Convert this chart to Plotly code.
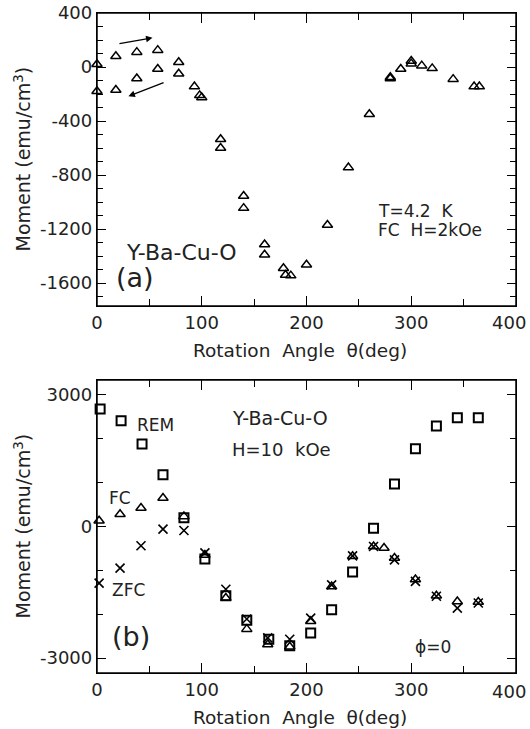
import plotly.graph_objects as go

# ---- Panel (a): FC H=2kOe, T=4.2 K ----
a_theta = [0, 0, 18, 18, 38, 38, 58, 58, 78, 78, 93, 98, 100, 118, 118, 140, 140,
           160, 160, 178, 180, 185, 200, 220, 240, 260, 280, 280, 290, 300, 300,
           310, 320, 340, 360, 365]
a_moment = [20, -180, 80, -170, 110, -85, 125, -15, 35, -50, -145, -210, -225, -535, -600,
            -955, -1045, -1315, -1390, -1490, -1540, -1545, -1465, -1170, -745, -350,
            -75, -85, -15, 45, 25, 10, -10, -90, -145, -145]

# ---- Panel (b): H=10 kOe ----
b_theta = [3, 23, 43, 63, 83, 103, 123, 143, 164, 184, 204, 224, 244, 264, 284, 304, 324, 344, 364]
rem = [2680, 2410, 1880, 1180, 200, -740, -1580, -2140, -2570, -2720, -2430, -1900, -1040,
       -40, 970, 1770, 2290, 2480, 2480]
fc_theta = [2, 22, 42, 63, 83, 103, 123, 143, 163, 184, 204, 224, 244, 264, 274, 284, 304, 324, 344, 364]
fc = [130, 280, 420, 650, 230, -650, -1630, -2340, -2690, -2740, -2160, -1370, -680, -455,
      -490, -720, -1210, -1580, -1710, -1720]
zfc_theta = [2, 22, 42, 63, 83, 103, 123, 143, 163, 184, 204, 224, 244, 264, 284, 304, 324, 344, 364]
zfc = [-1290, -950, -440, -60, -90, -600, -1430, -2110, -2540, -2570, -2090, -1330, -670,
       -455, -760, -1250, -1590, -1860, -1745]

x_tickvals = [0, 100, 200, 300, 400]
x_ticktext = ["0", "100", "200", "300", ""]   # "400" placed separately at the edge
a_tickvals = [-1600, -1200, -800, -400, 0, 400]
a_ticktext = ["-1600", "-1200", "-800", "-400", "0", "400"]
b_tickvals = [-3000, 0, 3000]
b_ticktext = ["-3000", "0", "3000"]

FONT = "DejaVu Sans"
INK = "#222"
W, H = 530, 729

def px_x(p):
    return p / W

def px_y(p):
    return 1 - p / H

fig = go.Figure()

fig.add_trace(go.Scatter(x=a_theta, y=a_moment, mode="markers", xaxis="x", yaxis="y",
                         marker=dict(symbol="triangle-up-open", size=9, color="black",
                                     line=dict(width=1.5, color="black")),
                         cliponaxis=False, showlegend=False))

fig.add_trace(go.Scatter(x=b_theta, y=rem, mode="markers", xaxis="x2", yaxis="y2",
                         marker=dict(symbol="square-open", size=9, color="black",
                                     line=dict(width=2, color="black")),
                         cliponaxis=False, showlegend=False))
fig.add_trace(go.Scatter(x=fc_theta, y=fc, mode="markers", xaxis="x2", yaxis="y2",
                         marker=dict(symbol="triangle-up-open", size=9, color="black",
                                     line=dict(width=1.5, color="black")),
                         cliponaxis=False, showlegend=False))
fig.add_trace(go.Scatter(x=zfc_theta, y=zfc, mode="markers", xaxis="x2", yaxis="y2",
                         marker=dict(symbol="x-thin-open", size=9, color="black",
                                     line=dict(width=1.6, color="black")),
                         cliponaxis=False, showlegend=False))

axis_common = dict(showline=True, linecolor="black", linewidth=1.3, mirror="ticks",
                   ticks="inside", tickcolor="black", tickwidth=1.2, showgrid=False,
                   zeroline=False, automargin=False, ticklabeloverflow="allow",
                   tickfont=dict(family=FONT, size=18, color=INK))

xdom = [px_x(97), px_x(516)]
TOP_A, BOT_A = 13, 306
TOP_B, BOT_B = 380, 673

fig.update_layout(
    width=W, height=H, autosize=False,
    margin=dict(l=0, r=0, t=0, b=0, autoexpand=False),
    paper_bgcolor="white", plot_bgcolor="white",
    xaxis=dict(axis_common, domain=xdom, anchor="y", range=[0, 400],
               tickvals=x_tickvals, ticktext=x_ticktext, ticklen=10,
               minor=dict(dtick=50, ticks="inside", ticklen=7, tickcolor="black")),
    yaxis=dict(axis_common, domain=[px_y(BOT_A), px_y(TOP_A)], anchor="x", range=[-1770, 400],
               tickvals=a_tickvals, ticktext=a_ticktext, ticklen=9,
               minor=dict(dtick=100, ticks="inside", ticklen=6, tickcolor="black")),
    xaxis2=dict(axis_common, domain=xdom, anchor="y2", range=[0, 400],
                tickvals=x_tickvals, ticktext=x_ticktext, ticklen=10,
                minor=dict(dtick=50, ticks="inside", ticklen=7, tickcolor="black")),
    yaxis2=dict(axis_common, domain=[px_y(BOT_B), px_y(TOP_B)], anchor="x2", range=[-3340, 3340],
                tickvals=b_tickvals, ticktext=b_ticktext, ticklen=9,
                minor=dict(dtick=1000, ticks="inside", ticklen=6, tickcolor="black")),
)

# explicit frames
for xr, yr in (("x domain", "y domain"), ("x2 domain", "y2 domain")):
    fig.add_shape(type="rect", xref=xr, yref=yr, x0=0, x1=1, y0=0, y1=1, layer="above",
                  line=dict(color="black", width=1.5), fillcolor="rgba(0,0,0,0)")

def txt(x, y, s, xref, yref, size=17, anchor="left", angle=0):
    fig.add_annotation(x=x, y=y, text=s, xref=xref, yref=yref, showarrow=False,
                       xanchor=anchor, yanchor="middle", textangle=angle,
                       font=dict(family=FONT, size=size, color=INK))

# axis titles and edge tick label
for top, bot, lab_y, title_y in ((TOP_A, BOT_A, 322, 350), (TOP_B, BOT_B, 691, 717)):
    txt(px_x(22), px_y((top + bot) / 2), "Moment (emu/cm<sup>3</sup>)", "paper", "paper",
        19, "center", -90)
    txt(px_x(300), px_y(title_y), "Rotation  Angle  θ(deg)", "paper", "paper", 18.5, "center")
    txt(px_x(528), px_y(lab_y), "400", "paper", "paper", 18, "right")

# panel (a) texts
txt(26, -1375, "Y-Ba-Cu-O", "x", "y", 22)
txt(16, -1556, "(a)", "x", "y", 27)
txt(266, -1065, "T=4.2  K", "x", "y", 17)
txt(266, -1205, "FC  H=2kOe", "x", "y", 17)

# arrows (a)
fig.add_annotation(x=53, y=216, ax=20, ay=171, xref="x", yref="y", axref="x", ayref="y",
                   showarrow=True, arrowhead=2, arrowsize=1, arrowwidth=1.3, arrowcolor="black",
                   text="")
fig.add_annotation(x=30, y=-216, ax=65, ay=-112, xref="x", yref="y", axref="x", ayref="y",
                   showarrow=True, arrowhead=2, arrowsize=1, arrowwidth=1.3, arrowcolor="black",
                   text="")

# panel (b) texts
txt(36, 2317, "REM", "x2", "y2", 17)
txt(10, 654, "FC", "x2", "y2", 17)
txt(12, -1442, "ZFC", "x2", "y2", 17)
txt(12, -2513, "(b)", "x2", "y2", 27)
txt(127, 2476, "Y-Ba-Cu-O", "x2", "y2", 19)
txt(127, 1747, "H=10  kOe", "x2", "y2", 18)
txt(302, -2743, "ϕ=0", "x2", "y2", 17)

fig.write_html("out.html", config={"displayModeBar": False},
               post_script="document.body.style.margin='0';")
